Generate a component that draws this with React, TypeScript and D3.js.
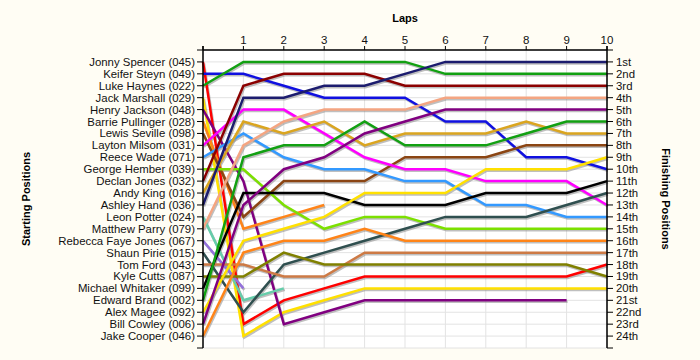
import React from 'react'
import { scaleLinear, line } from 'd3'

// starting grid, in order of starting position
const drivers = [
  'Jonny Spencer (045)', 'Keifer Steyn (049)', 'Luke Haynes (022)', 'Jack Marshall (029)',
  'Henry Jackson (048)', 'Barrie Pullinger (028)', 'Lewis Seville (098)', 'Layton Milsom (031)',
  'Reece Wade (071)', 'George Hember (039)', 'Declan Jones (032)', 'Andy King (016)',
  'Ashley Hand (036)', 'Leon Potter (024)', 'Matthew Parry (079)', 'Rebecca Faye Jones (067)',
  'Shaun Pirie (015)', 'Tom Ford (043)', 'Kyle Cutts (087)', 'Michael Whitaker (099)',
  'Edward Brand (002)', 'Alex Magee (092)', 'Bill Cowley (006)', 'Jake Cooper (046)',
]

const laps = [1, 2, 3, 4, 5, 6, 7, 8, 9, 10]

const finishLabels = [
  '1st', '2nd', '3rd', '4th', '5th', '6th', '7th', '8th', '9th', '10th', '11th', '12th',
  '13th', '14th', '15th', '16th', '17th', '18th', '19th', '20th', '21st', '22nd', '23rd', '24th',
]

// position at lap 0..10 for each driver, null = retired
const positions: (number | null)[][] = [
  [1, 23, 21, 20, 19, 19, 19, 19, 19, 19, 18],
  [2, 2, 3, 4, 4, 4, 6, 6, 9, 9, 10],
  [3, 1, 1, 1, 1, 1, 2, 2, 2, 2, 2],
  [4, 24, 22, 21, 20, 20, 20, 20, 20, 20, 20],
  [5, 11, 23, 22, 21, 21, 21, 21, 21, 21, null],
  [6, 15, 14, 13, null, null, null, null, null, null, null],
  [7, 14, 11, 11, 11, 9, 9, 9, 8, 8, 8],
  [8, 5, 5, 7, 9, 10, 10, 11, 11, 11, 13],
  [9, 7, 9, 10, 10, 11, 11, 13, 13, 14, 14],
  [10, 10, 13, 15, 14, 14, 15, 15, 15, 15, 15],
  [11, 3, 2, 2, 2, 3, 3, 3, 3, 3, 3],
  [12, 6, 7, 6, 8, 7, 7, 7, 6, 7, 7],
  [13, 4, 4, 3, 3, 2, 1, 1, 1, 1, 1],
  [14, 21, 20, null, null, null, null, null, null, null, null],
  [15, 8, 6, 5, 5, 5, 4, 4, 4, 4, 4],
  [16, 20, null, null, null, null, null, null, null, null, null],
  [17, 22, 18, 17, 16, 15, 14, 14, 14, 13, 12],
  [18, 18, 19, 19, 17, 17, 17, 17, 17, 17, 17],
  [19, 19, 17, 18, 18, 18, 18, 18, 18, 18, 19],
  [20, 12, 12, 12, 13, 13, 13, 12, 12, 12, 11],
  [21, 9, 8, 8, 6, 8, 8, 8, 7, 6, 6],
  [22, 16, 15, 14, 12, 12, 12, 10, 10, 10, 9],
  [23, 13, 10, 9, 7, 6, 5, 5, 5, 5, 5],
  [24, 17, 16, 16, 15, 16, 16, 16, 16, 16, 16],
]

const lineColors = [
  '#ff0000', '#1010e0', '#12a012', '#ffe000', '#800080', '#ff8418', '#8b4513', '#ff00ff',
  '#3399ff', '#7ce000', '#8b0000', '#daa520', '#1c1c6e', '#66cdaa', '#f4a582', '#9370db',
  '#2f4f4f', '#cd7a45', '#808000', '#000000', '#12a012', '#ffe000', '#800080', '#ff8418',
]

const font = '"Liberation Sans", Arial, sans-serif'

const App = () => {
  const x = scaleLinear().domain([0, 10]).range([203, 607])
  const y = scaleLinear().domain([0, 25]).range([50, 348])
  const slots = Array.from({ length: 24 }, (_, i) => i + 1)

  const pathGen = line<number | null>()
    .defined(d => d != null)
    .x((d, i) => x(i))
    .y(d => y(d as number))

  return (
    <svg width={700} height={360} style={{ position: 'absolute', left: 0, top: 0 }} fontFamily={font}>
      <rect width={700} height={360} fill="#fffdf4" />
      <rect x={x(0)} y={y(0)} width={x(10) - x(0)} height={y(25) - y(0)} fill="#ffffff" stroke="#e2e2e2" />

      {/* grid */}
      {slots.map(p => (
        <line key={'h' + p} x1={x(0)} x2={x(10)} y1={y(p)} y2={y(p)} stroke="#e3e3e3" />
      ))}
      {laps.map(l => (
        <line key={'v' + l} x1={x(l)} x2={x(l)} y1={y(0)} y2={y(25)} stroke="#e3e3e3" />
      ))}

      {/* shadows then lines */}
      {positions.map((row, i) => (
        <path key={'s' + i} d={pathGen(row) || ''} fill="none" stroke="#8a8a8a" strokeOpacity={0.55}
          strokeWidth={2.5} transform="translate(1,1.5)" />
      ))}
      {positions.map((row, i) => (
        <path key={'l' + i} d={pathGen(row) || ''} fill="none" stroke={lineColors[i]} strokeWidth={2.5} />
      ))}

      {/* top axis */}
      <line x1={x(0)} x2={x(10)} y1={y(0)} y2={y(0)} stroke="#000" strokeWidth={1.5} />
      {[0, ...laps].map(l => (
        <line key={'tt' + l} x1={x(l)} x2={x(l)} y1={y(0) - 4} y2={y(0)} stroke="#000" />
      ))}
      {laps.map(l => (
        <text key={'tl' + l} x={x(l)} y={44} fontSize={11.5} textAnchor="middle" fill="#111">{l}</text>
      ))}

      {/* left axis */}
      <line x1={x(0)} x2={x(0)} y1={y(0) - 4} y2={y(25)} stroke="#000" strokeWidth={1.5} />
      {[0, ...slots, 25].map(p => (
        <line key={'lt' + p} x1={x(0) - 6} x2={x(0)} y1={y(p)} y2={y(p)} stroke="#000" />
      ))}
      {drivers.map((d, i) => (
        <text key={'ll' + i} x={x(0) - 8} y={y(i + 1)} dy="0.35em" fontSize={11.4} textAnchor="end" fill="#111">{d}</text>
      ))}

      {/* right axis */}
      <line x1={x(10)} x2={x(10)} y1={y(0) - 4} y2={y(25)} stroke="#000" strokeWidth={1.5} />
      {[0, ...slots, 25].map(p => (
        <line key={'rt' + p} x1={x(10)} x2={x(10) + 6} y1={y(p)} y2={y(p)} stroke="#000" />
      ))}
      {finishLabels.map((f, i) => (
        <text key={'rl' + i} x={x(10) + 9} y={y(i + 1)} dy="0.35em" fontSize={11.4} fill="#111">{f}</text>
      ))}

      {/* titles */}
      <text x={(x(0) + x(10)) / 2} y={22} fontSize={11} fontWeight="bold" textAnchor="middle">Laps</text>
      <text transform={`translate(30,${(y(0) + y(25)) / 2}) rotate(-90)`} fontSize={11} fontWeight="bold" textAnchor="middle">Starting Positions</text>
      <text transform={`translate(662,${(y(0) + y(25)) / 2}) rotate(90)`} fontSize={11} fontWeight="bold" textAnchor="middle">Finishing Positions</text>
    </svg>
  )
}

export default App
